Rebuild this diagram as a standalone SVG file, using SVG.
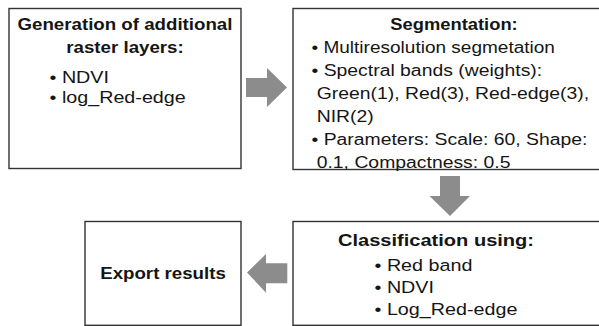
<svg xmlns="http://www.w3.org/2000/svg" width="599" height="326" viewBox="0 0 599 326">
  <style>
    .box { fill: #ffffff; stroke: #333333; stroke-width: 1.4; }
    .arrow { fill: #8c8c8c; stroke: none; }
    text { font-family: "Liberation Sans", Arial, sans-serif; font-size: 17.3px; fill: #151515; }
    .title { font-weight: bold; text-anchor: middle; font-size: 17px; }
  </style>
  <rect width="599" height="326" fill="#ffffff"/>

  <!-- connectors: block arrows between steps -->
  <g id="connectors">
    <path class="arrow" d="M246,78 H267 V68 L287,87.5 L267,107 V97 H246 Z"/>
    <path class="arrow" d="M440,176 H460 V196 H470 L450,216 L429.5,196 H440 Z"/>
    <path class="arrow" d="M287.3,263.3 H266 V254 L247,272.5 L266,292.7 V283.3 H287.3 Z"/>
  </g>

  <g id="node-generation">
    <rect class="box" x="9" y="8.5" width="232" height="160"/>
    <text class="title" transform="translate(125 30) scale(1.1 1)">Generation of additional</text>
    <text class="title" transform="translate(125 52.7) scale(1.1 1)">raster layers:</text>
    <text transform="translate(49.5 83.3) scale(1.14 1)">• NDVI</text>
    <text transform="translate(49.5 102.7) scale(1.14 1)">• log_Red-edge</text>
  </g>

  <g id="node-segmentation">
    <rect class="box" x="293" y="8.5" width="320" height="161"/>
    <text class="title" transform="translate(454 30) scale(1.08 1)">Segmentation:</text>
    <text transform="translate(311.5 53.2) scale(1.1 1)">• Multiresolution segmetation</text>
    <text transform="translate(311.5 76.2) scale(1.12 1)">• Spectral bands (weights):</text>
    <text transform="translate(316.7 99.2) scale(1.12 1)">Green(1), Red(3), Red-edge(3),</text>
    <text transform="translate(316.7 122.2) scale(1.12 1)">NIR(2)</text>
    <text transform="translate(311.5 145.2) scale(1.12 1)">• Parameters: Scale: 60, Shape:</text>
    <text transform="translate(316.7 167.6) scale(1.12 1)">0.1, Compactness: 0.5</text>
  </g>

  <g id="node-classification">
    <rect class="box" x="293" y="221.5" width="320" height="103.8"/>
    <text class="title" transform="translate(436 245.7) scale(1.18 1)">Classification using:</text>
    <text transform="translate(374.5 270.7) scale(1.14 1)">• Red band</text>
    <text transform="translate(374.5 292.7) scale(1.14 1)">• NDVI</text>
    <text transform="translate(374.5 315) scale(1.14 1)">• Log_Red-edge</text>
  </g>

  <g id="node-export">
    <rect class="box" x="85" y="221.5" width="156" height="103.8"/>
    <text class="title" transform="translate(163 279) scale(1.1 1)">Export results</text>
  </g>
</svg>
